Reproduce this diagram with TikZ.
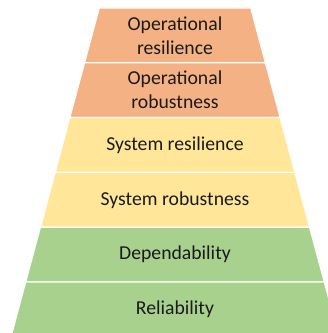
\documentclass[tikz,border=0pt]{standalone}
\usepackage{fontspec}
\setmainfont{Carlito}
\definecolor{orangeL}{HTML}{F4B183}
\definecolor{yellowL}{HTML}{FFE699}
\definecolor{greenL}{HTML}{A9D18E}
\definecolor{txt}{HTML}{1A1A1A}
\tikzset{
  layer/.style={draw=white, line width=1.2pt, line join=miter},
  lbl/.style={text=txt, font=\fontsize{19.7}{24}\selectfont, align=center, inner sep=0pt}
}
\begin{document}
\begin{tikzpicture}[x=1pt,y=1pt]
\useasboundingbox (0,0) rectangle (328,333);
\clip (0,0) rectangle (328,333);
\foreach \i/\c in {0/orangeL,1/orangeL,2/yellowL,3/yellowL,4/greenL,5/greenL}{
  \pgfmathsetmacro\ta{325-54.8*\i}
  \pgfmathsetmacro\tb{\ta-54.8}
  \pgfmathsetmacro\wa{75.73+14.713*\i}
  \pgfmathsetmacro\wb{\wa+14.713}
  \filldraw[layer, fill=\c] (175-\wa,\ta) -- (175+\wa,\ta) -- (175+\wb,\tb) -- (175-\wb,\tb) -- cycle;
}
\node[lbl] (opres) at (175,297.6) {Operational\\resilience};
\node[lbl] (oprob) at (175,242.8) {Operational\\robustness};
\node[lbl] (sysres) at (175,188) {System resilience};
\node[lbl] (sysrob) at (175,133.2) {System robustness};
\node[lbl] (dep) at (175,78.4) {Dependability};
\node[lbl] (rel) at (175,23.6) {Reliability};
\end{tikzpicture}
\end{document}
